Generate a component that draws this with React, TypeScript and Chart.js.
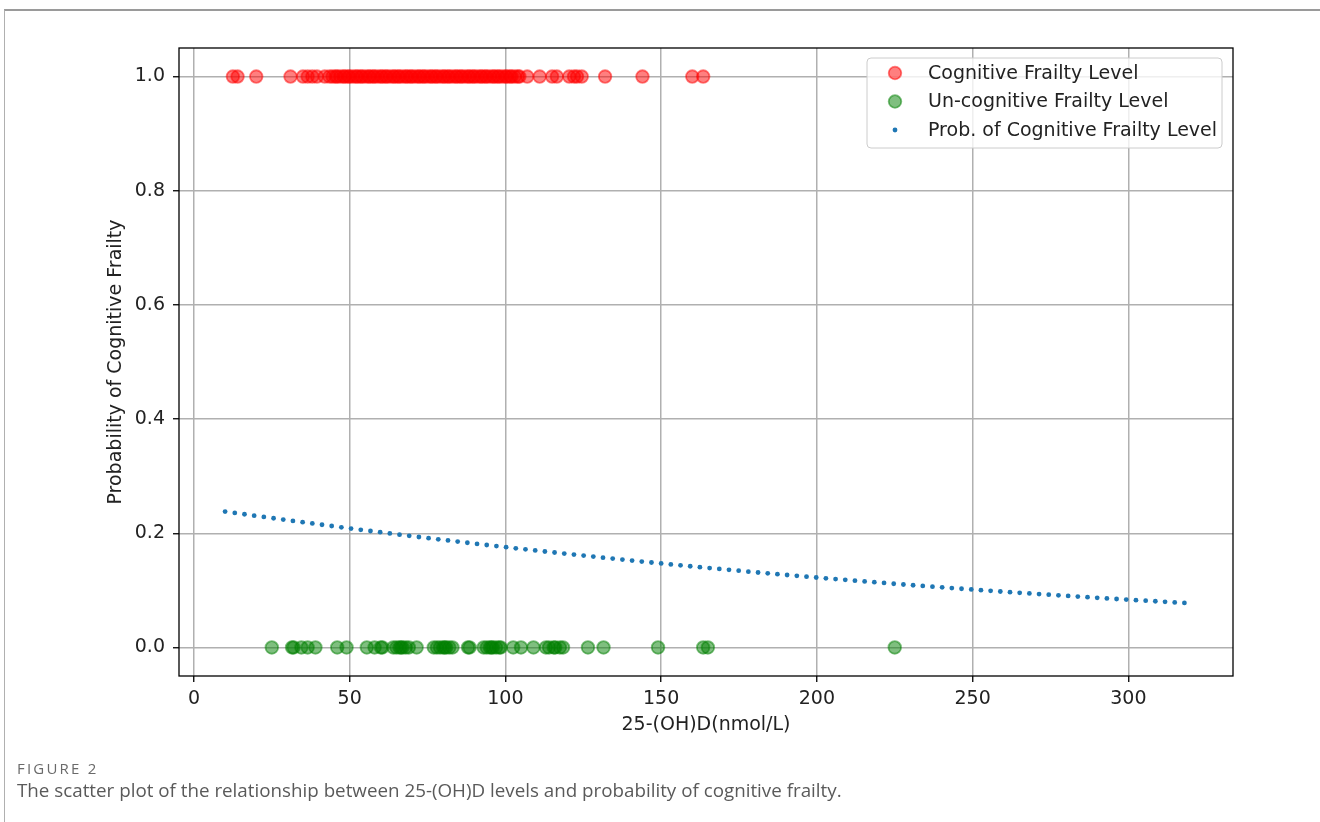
import React, { useEffect, useRef } from "react";
import { Chart, registerables } from "chart.js";

Chart.register(...registerables);

// ---------- data ----------
const X_TICKS = [0, 50, 100, 150, 200, 250, 300];
const Y_TICKS = [0, 0.2, 0.4, 0.6, 0.8, 1.0];

const SERIES_LABELS = [
  "Cognitive Frailty Level",
  "Un-cognitive Frailty Level",
  "Prob. of Cognitive Frailty Level",
];
const X_TITLE = "25-(OH)D(nmol/L)";
const Y_TITLE = "Probability of Cognitive Frailty";

// 25-(OH)D values of the cognitive-frailty group (plotted at 1.0)
const CF_X = [
  12.5, 14, 20, 31, 35, 36.5, 38, 39.5, 42, 43.5, 44.5, 45.5, 46, 47, 48, 48.5, 49.5, 50,
  51, 52, 52.5, 53.5, 54, 55, 56, 56.5, 57.5, 58, 59, 60, 60.5, 61.5, 62, 63, 64, 64.5,
  65.5, 66, 67, 68, 68.5, 69.5, 70, 71, 72, 72.5, 73.5, 74, 75, 76, 76.5, 77.5, 78, 79,
  80, 80.5, 81.5, 82, 83, 84, 84.5, 85.5, 86, 87, 88, 88.5, 89.5, 90, 91, 92, 92.5, 93.5,
  94, 95, 96, 96.5, 97.5, 98, 99, 100, 100.5, 101.5, 102, 103, 104, 104.5, 107, 111, 115,
  116.5, 120.5, 122, 123, 124.5, 132, 144, 160, 163.5,
];
// 25-(OH)D values of the non-cognitive-frailty group (plotted at 0.0)
const NCF_X = [
  25, 31.5, 32, 34.5, 36.5, 39, 46, 49, 55.5, 58, 60, 60.5, 64, 65, 66, 66.5, 67, 68, 69,
  71.5, 77, 78, 79, 80, 80.5, 81, 82, 83, 88, 88.5, 93, 94, 95, 95.5, 96, 97, 98, 98.5,
  102.5, 105, 109, 113, 114, 115.5, 116, 117.5, 118.5, 126.5, 131.5, 149, 163.5, 165, 225,
];
// fitted probability curve
const PROB_X = [
  10.0, 13.11, 16.22, 19.33, 22.44, 25.56, 28.67, 31.78, 34.89, 38.0,
  41.11, 44.22, 47.33, 50.44, 53.56, 56.67, 59.78, 62.89, 66.0, 69.11,
  72.22, 75.33, 78.44, 81.56, 84.67, 87.78, 90.89, 94.0, 97.11, 100.22,
  103.33, 106.44, 109.56, 112.67, 115.78, 118.89, 122.0, 125.11, 128.22, 131.33,
  134.44, 137.56, 140.67, 143.78, 146.89, 150.0, 153.11, 156.22, 159.33, 162.44,
  165.56, 168.67, 171.78, 174.89, 178.0, 181.11, 184.22, 187.33, 190.44, 193.56,
  196.67, 199.78, 202.89, 206.0, 209.11, 212.22, 215.33, 218.44, 221.56, 224.67,
  227.78, 230.89, 234.0, 237.11, 240.22, 243.33, 246.44, 249.56, 252.67, 255.78,
  258.89, 262.0, 265.11, 268.22, 271.33, 274.44, 277.56, 280.67, 283.78, 286.89,
  290.0, 293.11, 296.22, 299.33, 302.44, 305.56, 308.67, 311.78, 314.89, 318.0,
];
const PROB_Y = [
  0.238, 0.2356, 0.2333, 0.2309, 0.2286, 0.2263, 0.224, 0.2217, 0.2194, 0.2172,
  0.2149, 0.2127, 0.2105, 0.2083, 0.2061, 0.204, 0.2019, 0.1997, 0.1976, 0.1956,
  0.1935, 0.1914, 0.1894, 0.1874, 0.1854, 0.1834, 0.1814, 0.1795, 0.1775, 0.1756,
  0.1737, 0.1718, 0.17, 0.1681, 0.1663, 0.1645, 0.1627, 0.1609, 0.1591, 0.1573,
  0.1556, 0.1539, 0.1522, 0.1505, 0.1488, 0.1471, 0.1455, 0.1438, 0.1422, 0.1406,
  0.139, 0.1375, 0.1359, 0.1344, 0.1328, 0.1313, 0.1298, 0.1283, 0.1269, 0.1254,
  0.124, 0.1225, 0.1211, 0.1197, 0.1184, 0.117, 0.1156, 0.1143, 0.113, 0.1116,
  0.1103, 0.109, 0.1078, 0.1065, 0.1053, 0.104, 0.1028, 0.1016, 0.1004, 0.0992,
  0.098, 0.0969, 0.0957, 0.0946, 0.0935, 0.0924, 0.0913, 0.0902, 0.0891, 0.088,
  0.087, 0.0859, 0.0849, 0.0839, 0.0829, 0.0819, 0.0809, 0.0799, 0.0789, 0.078,
];

const FONT = '"DejaVu Sans", sans-serif';
const FONT_SIZE = 19;
const TEXT_COLOR = "#222222";

// frame (matplotlib spines) + legend inside the axes
const mplPlugin = {
  id: "mplFrameLegend",
  afterDraw(chart: any) {
    const { ctx, chartArea } = chart;
    ctx.save();
    // spines
    ctx.strokeStyle = "#000";
    ctx.lineWidth = 1.3;
    ctx.strokeRect(chartArea.left, chartArea.top, chartArea.right - chartArea.left, chartArea.bottom - chartArea.top);

    // legend
    const w = 355;
    const h = 90;
    const x0 = chartArea.right - 11 - w;
    const y0 = chartArea.top + 10;
    const r = 4;
    ctx.beginPath();
    ctx.moveTo(x0 + r, y0);
    ctx.lineTo(x0 + w - r, y0);
    ctx.quadraticCurveTo(x0 + w, y0, x0 + w, y0 + r);
    ctx.lineTo(x0 + w, y0 + h - r);
    ctx.quadraticCurveTo(x0 + w, y0 + h, x0 + w - r, y0 + h);
    ctx.lineTo(x0 + r, y0 + h);
    ctx.quadraticCurveTo(x0, y0 + h, x0, y0 + h - r);
    ctx.lineTo(x0, y0 + r);
    ctx.quadraticCurveTo(x0, y0, x0 + r, y0);
    ctx.closePath();
    ctx.fillStyle = "rgba(255,255,255,0.8)";
    ctx.fill();
    ctx.strokeStyle = "#cccccc";
    ctx.lineWidth = 1;
    ctx.stroke();

    chart.data.datasets.forEach((ds: any, i: number) => {
      const cy = y0 + 15 + i * 28.5;
      const cx = x0 + 28;
      ctx.beginPath();
      ctx.arc(cx, cy, ds.pointRadius, 0, Math.PI * 2);
      ctx.fillStyle = ds.pointBackgroundColor;
      ctx.fill();
      if (ds.pointBorderWidth > 0) {
        ctx.lineWidth = ds.pointBorderWidth;
        ctx.strokeStyle = ds.pointBorderColor;
        ctx.stroke();
      }
      ctx.fillStyle = TEXT_COLOR;
      ctx.font = `${FONT_SIZE}px ${FONT}`;
      ctx.textAlign = "left";
      ctx.textBaseline = "middle";
      ctx.fillText(ds.label, x0 + 61, cy + 1);
    });
    ctx.restore();
  },
};

export default function App() {
  const canvasRef = useRef<HTMLCanvasElement | null>(null);

  useEffect(() => {
    if (!canvasRef.current) return;
    const gridCommon = {
      color: "#b0b0b0",
      lineWidth: 1.5,
      tickColor: "#000000",
      tickLength: 6,
      tickWidth: 1.3,
      drawTicks: true,
    };
    const chart = new Chart(canvasRef.current, {
      type: "scatter",
      data: {
        datasets: [
          {
            label: SERIES_LABELS[0],
            data: CF_X.map((x) => ({ x, y: 1 })),
            pointRadius: 6.3,
            pointHoverRadius: 6.3,
            pointBackgroundColor: "rgba(255,0,0,0.5)",
            pointBorderColor: "rgba(255,0,0,0.5)",
            pointBorderWidth: 1.8,
            showLine: false,
          } as any,
          {
            label: SERIES_LABELS[1],
            data: NCF_X.map((x) => ({ x, y: 0 })),
            pointRadius: 6.3,
            pointHoverRadius: 6.3,
            pointBackgroundColor: "rgba(0,128,0,0.5)",
            pointBorderColor: "rgba(0,128,0,0.5)",
            pointBorderWidth: 1.8,
            showLine: false,
          } as any,
          {
            label: SERIES_LABELS[2],
            data: PROB_X.map((x, i) => ({ x, y: PROB_Y[i] })),
            pointRadius: 2.4,
            pointHoverRadius: 2.4,
            pointBackgroundColor: "#1f77b4",
            pointBorderColor: "#1f77b4",
            pointBorderWidth: 0,
            showLine: false,
          } as any,
        ],
      },
      options: {
        animation: false,
        responsive: false,
        events: [],
        layout: { padding: { left: 100, top: 48, right: 87, bottom: 86 } },
        plugins: {
          legend: { display: false },
          tooltip: { enabled: false },
        },
        scales: {
          x: {
            type: "linear",
            min: -4.8,
            max: 333.6,
            z: 1,
            grid: gridCommon,
            border: { display: false },
            afterBuildTicks: (s: any) => {
              s.ticks = X_TICKS.map((v) => ({ value: v }));
            },
            afterFit: (s: any) => {
              s.height = 60;
            },
            ticks: {
              color: TEXT_COLOR,
              font: { family: FONT, size: FONT_SIZE },
              padding: 6,
              maxRotation: 0,
              autoSkip: false,
              callback: (v: any) => String(v),
            },
            title: {
              display: true,
              text: X_TITLE,
              color: TEXT_COLOR,
              font: { family: FONT, size: FONT_SIZE },
              padding: { top: 0, bottom: 0 },
            },
          },
          y: {
            type: "linear",
            min: -0.05,
            max: 1.05,
            z: 1,
            grid: gridCommon,
            border: { display: false },
            afterBuildTicks: (s: any) => {
              s.ticks = Y_TICKS.map((v) => ({ value: v }));
            },
            afterFit: (s: any) => {
              s.width = 79;
            },
            ticks: {
              color: TEXT_COLOR,
              font: { family: FONT, size: FONT_SIZE },
              padding: 8,
              autoSkip: false,
              callback: (v: any) => Number(v).toFixed(1),
            },
            title: {
              display: true,
              text: Y_TITLE,
              color: TEXT_COLOR,
              font: { family: FONT, size: FONT_SIZE },
              padding: { top: 5, bottom: 0 },
            },
          },
        },
      } as any,
      plugins: [mplPlugin],
    });
    return () => chart.destroy();
  }, []);

  return (
    <div style={{ position: "absolute", left: 0, top: 0, width: 1320, height: 822, overflow: "hidden", background: "#fff" }}>
      <div
        style={{
          position: "absolute",
          left: 4,
          top: 9,
          width: 1400,
          height: 900,
          borderTop: "2px solid #9a9a9a",
          borderLeft: "1px solid #b0b0b0",
        }}
      />
      <canvas ref={canvasRef} width={1320} height={822} style={{ position: "absolute", left: 0, top: 0 }} />
      <div
        style={{
          position: "absolute",
          left: 17,
          top: 759,
          fontFamily: '"Open Sans", sans-serif',
          fontSize: 15,
          letterSpacing: 2.2,
          color: "#6a6a6a",
          lineHeight: "18px",
        }}
      >
        FIGURE 2
      </div>
      <div
        style={{
          position: "absolute",
          left: 17,
          top: 778,
          fontFamily: '"Open Sans", sans-serif',
          fontSize: 18.8,
          color: "#5a5a5a",
          lineHeight: "24px",
          whiteSpace: "nowrap",
        }}
      >
        The scatter plot of the relationship between 25-(OH)D levels and probability of cognitive frailty.
      </div>
    </div>
  );
}
